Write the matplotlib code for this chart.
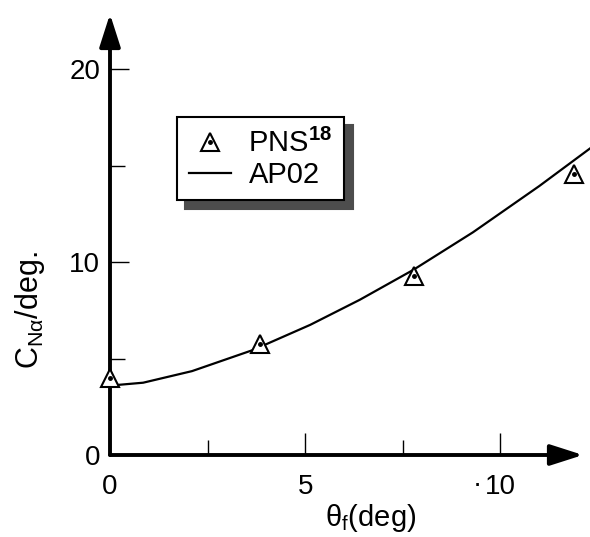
import matplotlib
matplotlib.use('Agg')
import matplotlib.pyplot as plt

# PNS data points (triangles)
theta_pns = [0, 3.85, 7.8, 11.9]
cn_pns = [4.0, 5.75, 9.3, 14.6]

# AP02 prediction (solid line)
theta_ap02 = [0, 0.85, 2.1, 3.67, 5.13, 6.4, 7.77, 9.3, 11.0, 12.3]
cn_ap02 = [3.6, 3.75, 4.35, 5.45, 6.75, 8.05, 9.6, 11.55, 13.95, 15.9]

x_major = [0, 5, 10]
x_labels = ['0', '5', '10']
x_minor = [2.5, 7.5]
y_major = [0, 10, 20]
y_labels = ['0', '10', '20']
y_minor = [5, 15]

plt.rcParams['font.family'] = ['Liberation Sans', 'DejaVu Sans']
plt.rcParams['mathtext.fontset'] = 'custom'
plt.rcParams['mathtext.rm'] = 'Liberation Sans'
plt.rcParams['mathtext.it'] = 'Liberation Sans:italic'
plt.rcParams['mathtext.bf'] = 'Liberation Sans:bold'

fig = plt.figure(figsize=(5.9, 5.37), dpi=100)
ax = fig.add_axes([110/590, 82/537, 480/590, 455/537])
ax.set_xlim(0, 12.3)
ax.set_ylim(0, 23.6)
for s in ax.spines.values():
    s.set_visible(False)

# axes drawn as arrows
arrow = dict(arrowstyle='-|>,head_length=1.0,head_width=0.32', lw=2.8,
             color='k', shrinkA=0, shrinkB=0, mutation_scale=20)
ax.annotate('', xy=(0, 1 - 14/455), xytext=(0, 0), xycoords='axes fraction',
            arrowprops=arrow)
ax.annotate('', xy=(473/480, 0), xytext=(0, 0), xycoords='axes fraction',
            arrowprops=arrow)

line, = ax.plot(theta_ap02, cn_ap02, color='k', lw=1.6, zorder=2, clip_on=False)
tri, = ax.plot(theta_pns, cn_pns, ls='none', marker='^', ms=13, mfc='white',
               mec='k', mew=1.5, zorder=3, clip_on=False)
dot, = ax.plot(theta_pns, cn_pns, ls='none', marker='o', ms=2.5, color='k',
               zorder=4, clip_on=False)

ax.set_xticks(x_major)
ax.set_xticklabels(x_labels)
ax.set_xticks(x_minor, minor=True)
ax.set_yticks(y_major)
ax.set_yticklabels(y_labels)
ax.set_yticks(y_minor, minor=True)
ax.tick_params(axis='x', which='major', direction='in', length=16, width=1,
               labelsize=20, pad=14)
ax.tick_params(axis='x', which='minor', direction='in', length=11, width=1)
ax.tick_params(axis='y', which='major', direction='in', length=14, width=1,
               labelsize=20, pad=7)
ax.tick_params(axis='y', which='minor', direction='in', length=11, width=1)

# stray dot in front of the 10 label
fig.text(477/590, 1 - 485/537, '·', ha='center', va='center', fontsize=20)

fig.text(371/590, 1 - 518/537, r'θ$_\mathregular{f}$(deg)', ha='center',
         va='center', fontsize=21)
fig.text(30/590, 1 - 310/537, r'C$_\mathregular{Nα}$/deg.', ha='center',
         va='center', rotation=90, fontsize=22)

leg = ax.legend([(tri, dot), line], [r'PNS$^\mathbf{18}$', 'AP02'],
                loc='upper left', bbox_to_anchor=(177/590, 1 - 117/537),
                bbox_transform=fig.transFigure, borderaxespad=0,
                fancybox=False, edgecolor='k', framealpha=1,
                shadow={'ox': 6, 'oy': -6, 'color': '0.3', 'alpha': 1},
                fontsize=21, handlelength=1.45, handletextpad=0.6,
                labelspacing=0.1, borderpad=0.4)
leg.get_frame().set_linewidth(1.5)

fig.savefig('out.png', dpi=100)
